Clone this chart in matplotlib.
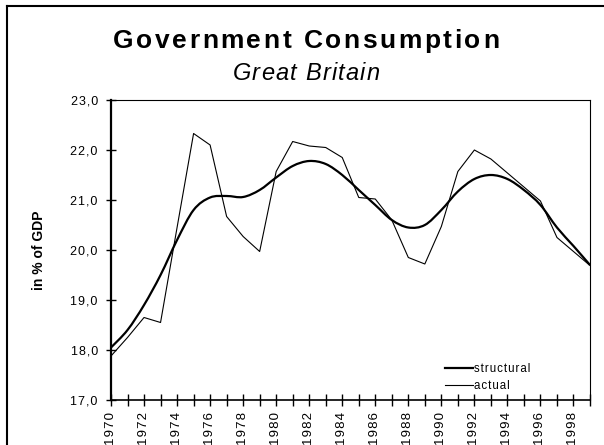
import numpy as np
import matplotlib
matplotlib.use('Agg')
import matplotlib.pyplot as plt
from matplotlib.path import Path
from matplotlib.patches import PathPatch
from matplotlib.lines import Line2D
from matplotlib.ticker import FuncFormatter

# data (in % of GDP)
years = list(range(1970, 2000))
actual = [17.88, 18.25, 18.65, 18.55, 20.45, 22.33, 22.10, 20.67, 20.27, 19.97,
          21.57, 22.17, 22.08, 22.05, 21.85, 21.05, 21.02, 20.60, 19.85, 19.72,
          20.47, 21.57, 22.00, 21.82, 21.54, 21.26, 20.98, 20.25, 19.97, 19.69]
structural = [18.05, 18.40, 18.90, 19.50, 20.20, 20.80, 21.05, 21.08, 21.06, 21.20,
              21.45, 21.68, 21.78, 21.72, 21.50, 21.20, 20.90, 20.60, 20.45, 20.50,
              20.80, 21.17, 21.42, 21.50, 21.42, 21.20, 20.90, 20.45, 20.08, 19.70]
yticks = [17, 18, 19, 20, 21, 22, 23]

plt.rcParams['font.family'] = ['Liberation Sans', 'DejaVu Sans']

W, H = 604, 445
fig = plt.figure(figsize=(W / 100, H / 100), dpi=100)
ax = fig.add_axes([111 / W, 1 - 400 / H, 479 / W, 300 / H])

# smoothed line for structural (like excel's "smoothed line")
x = np.array(years, float)
y = np.array(structural)
verts = [(x[0], y[0])]
codes = [Path.MOVETO]
n = len(x)
for i in range(n - 1):
    p0 = max(i - 1, 0)
    p3 = min(i + 2, n - 1)
    c1 = (x[i] + (x[i + 1] - x[p0]) / 6, y[i] + (y[i + 1] - y[p0]) / 6)
    c2 = (x[i + 1] - (x[p3] - x[i]) / 6, y[i + 1] - (y[p3] - y[i]) / 6)
    verts += [c1, c2, (x[i + 1], y[i + 1])]
    codes += [Path.CURVE4] * 3
ax.add_patch(PathPatch(Path(verts, codes), fill=False, lw=1.6, edgecolor='black'))
ax.plot(years, actual, color='black', lw=0.8)

ax.set_xlim(1970, 1999)
ax.set_ylim(17, 23)

hs = '\u200a'
ax.set_yticks(yticks)
ax.yaxis.set_major_formatter(FuncFormatter(lambda v, p: hs.join(f"{v:.1f}".replace('.', ','))))
ax.set_xticks(years)
ax.set_xticklabels([hs.join(str(yr)) if yr % 2 == 0 else '' for yr in years], rotation=90)
ax.tick_params(direction='inout', width=1, color='black')
ax.tick_params(axis='x', length=9, pad=4, labelsize=9.5)
ax.tick_params(axis='y', length=7, pad=6, labelsize=9)

ax.spines['left'].set_linewidth(1.6)
ax.spines['bottom'].set_linewidth(1.2)
ax.spines['top'].set_linewidth(0.8)
ax.spines['right'].set_linewidth(0.8)

handles = [Line2D([], [], color='black', lw=1.6), Line2D([], [], color='black', lw=0.8)]
ax.legend(handles, [hs.join('structural'), hs.join('actual')], loc='lower left',
          bbox_to_anchor=(0.697, 0.027), frameon=False, fontsize=8.3,
          handlelength=2.4, handletextpad=0.15, labelspacing=0.45,
          borderpad=0, borderaxespad=0)

fig.text(39 / W, 1 - 250 / H, 'in % of GDP', rotation=90, ha='center', va='center',
         fontsize=10, weight='bold')

# outer chart frame (cut off on the right and bottom)
fig.add_artist(Line2D([7 / W, 7 / W], [-0.1, 1 - 6 / H], transform=fig.transFigure, color='black', lw=1.5))
fig.add_artist(Line2D([7 / W, 1.1], [1 - 6 / H, 1 - 6 / H], transform=fig.transFigure, color='black', lw=1.5))


def spaced(s, xc, base, width, **kw):
    # letter-spaced text so that it spans the given width
    r = fig.canvas.get_renderer()

    def w(t):
        tt = fig.text(0, 0, t, **kw)
        b = tt.get_window_extent(r).width
        tt.remove()
        return b

    wx = w('x')
    pos = [w(s[:i] + 'x') - wx if i > 0 else 0 for i in range(len(s))]
    nat = pos[-1] + w(s[-1])
    track = (width - nat) / (len(s) - 1)
    x0 = xc - width / 2
    for i, ch in enumerate(s):
        if ch != ' ':
            fig.text((x0 + pos[i] + i * track) / W, 1 - base / H, ch,
                     ha='left', va='baseline', **kw)


spaced('Government Consumption', 306, 48, 386, fontsize=19, weight='bold')
spaced('Great Britain', 306, 80, 147, fontsize=17, style='italic')

fig.savefig('out.png', dpi=100)
